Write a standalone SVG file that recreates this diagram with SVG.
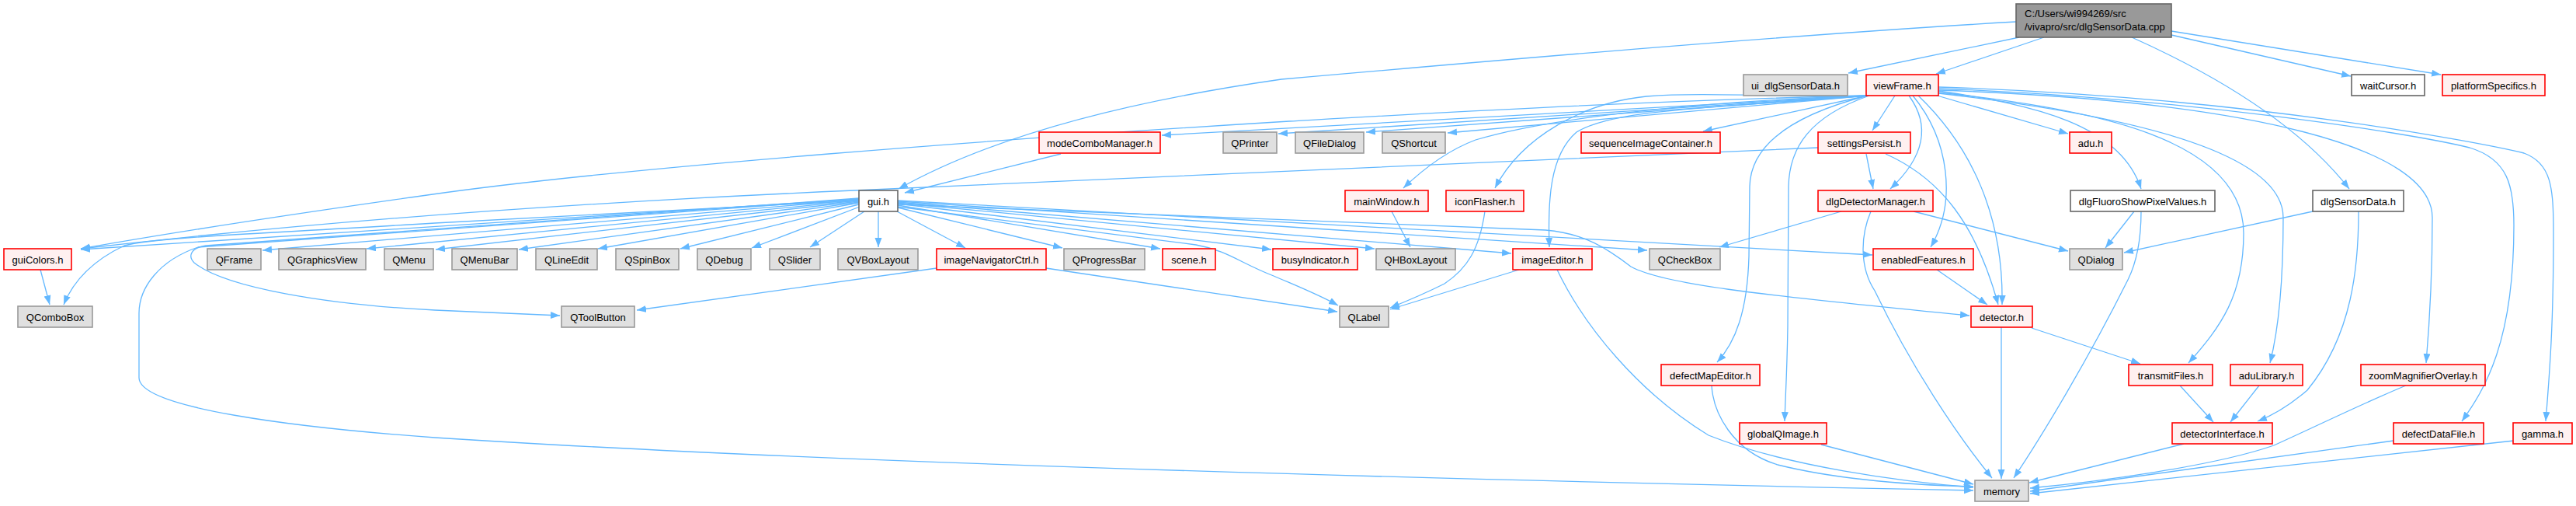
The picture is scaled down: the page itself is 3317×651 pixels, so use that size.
<svg xmlns="http://www.w3.org/2000/svg" width="3317" height="651" viewBox="0 0 3317 651">
<style>
.n text{font-family:"Liberation Sans",Arial,sans-serif;font-size:13px;fill:#000;text-anchor:middle}
.r rect{fill:#fff0f0;stroke:#ff0000;stroke-width:1.6}
.g rect{fill:#e0e0e0;stroke:#999999;stroke-width:1.6}
.w rect{fill:#ffffff;stroke:#666666;stroke-width:1.6}
.root rect{fill:#999999;stroke:#666666;stroke-width:1.6}
#edges path{fill:none;stroke:#63b8ff;stroke-width:1.3;marker-end:url(#ah)}
</style>
<defs>
<marker id="ah" markerUnits="userSpaceOnUse" markerWidth="14" markerHeight="10" refX="12" refY="4.5" orient="auto">
<path d="M0,0 L12,4.5 L0,9 z" fill="#63b8ff"/>
</marker>
</defs>
<rect width="3317" height="651" fill="#ffffff"/>
<g id="edges">
<path d="M2596,28 C2300,45 1900,80 1650,102 C1420,135 1260,185 1157,243"/>
<path d="M2600,48 L2380,94"/>
<path d="M2632,48 L2493,95"/>
<path d="M2796,45 L3027,98"/>
<path d="M2796,40 L3143,96"/>
<path d="M2745,48 C2850,95 2960,160 3025,243"/>
<path d="M2440,123 L2411,168"/>
<path d="M2458,123 C2485,160 2480,200 2434,243"/>
<path d="M2463,123 C2510,180 2520,260 2486,318"/>
<path d="M2470,123 C2540,190 2580,280 2578,392"/>
<path d="M2491,122 L2663,172"/>
<path d="M2496,117 C2620,135 2730,160 2757,243"/>
<path d="M2496,119 C2700,140 2889,180 2889,300 C2889,380 2860,420 2818,467"/>
<path d="M2496,120 C2760,150 2940,200 2940,280 C2940,360 2935,420 2923,467"/>
<path d="M2496,116 C2900,130 3132,190 3132,280 C3132,360 3128,420 3124,467"/>
<path d="M2496,114 C2800,125 3100,170 3180,190 C3230,205 3237,240 3237,290 C3237,440 3200,500 3170,542"/>
<path d="M2496,112 C2900,125 3200,185 3250,197 C3285,210 3288,240 3288,300 C3288,420 3283,480 3278,542"/>
<path d="M2405,123 L2193,169"/>
<path d="M2405,123 C2200,140 2080,140 2030,170 C1995,200 1993,260 1995,318"/>
<path d="M2405,123 C2300,126 2200,118 2120,124 C2040,132 1960,175 1925,242"/>
<path d="M2405,123 C2200,130 2000,150 1900,180 C1860,195 1830,220 1807,242"/>
<path d="M2405,123 L1864,171"/>
<path d="M2405,123 L1759,170"/>
<path d="M2405,123 L1646,172"/>
<path d="M2405,123 L1496,174"/>
<path d="M2405,123 C2100,130 1800,148 1660,156 C1300,178 800,215 550,251 C380,275 200,303 104,320"/>
<path d="M2405,123 C2300,150 2254,190 2253,240 L2252,330 C2250,400 2235,440 2211,466"/>
<path d="M2407,123 C2330,150 2304,190 2303,240 L2302,420 C2301,480 2299,510 2298,542"/>
<path d="M2403,198 L2412,243"/>
<path d="M2428,198 C2500,230 2545,290 2573,392"/>
<path d="M2341,190 L1100,245 C800,258 450,280 104,320"/>
<path d="M1106,256 L104,321"/>
<path d="M1106,257 L338,322"/>
<path d="M1106,258 L472,320"/>
<path d="M1106,259 L561,321"/>
<path d="M1106,260 L668,321"/>
<path d="M1106,261 L770,320"/>
<path d="M1106,263 L876,320"/>
<path d="M1107,266 L968,319"/>
<path d="M1113,272 L1043,318"/>
<path d="M1131,272 L1131,318"/>
<path d="M1155,272 L1243,319"/>
<path d="M1156,267 L1368,319"/>
<path d="M1156,264 L1494,320"/>
<path d="M1156,262 L1637,321"/>
<path d="M1156,261 L1770,320"/>
<path d="M1156,260 L1946,326"/>
<path d="M1156,259 L2121,322"/>
<path d="M1156,258 L2411,328"/>
<path d="M1156,263 L1990,296 C2040,300 2070,320 2100,343 C2140,365 2250,378 2536,406"/>
<path d="M1156,266 L1540,315 C1580,322 1600,340 1640,355 C1670,368 1700,380 1723,393"/>
<path d="M1106,258 L560,287 C350,300 200,305 160,316 C120,335 95,360 82,392"/>
<path d="M1106,255 L265,316 C245,319 242,330 250,338 C290,370 420,392 560,399 L721,406"/>
<path d="M1106,256 L255,318 C205,335 179,370 179,403 L179,486 C179,525 380,550 560,563 C900,585 1500,610 2541,631"/>
<path d="M52,347 L64,392"/>
<path d="M1206,345 L820,399"/>
<path d="M1347,345 L1722,401"/>
<path d="M1912,272 C1905,320 1890,345 1860,365 C1830,380 1810,388 1790,396"/>
<path d="M1956,347 L1790,398"/>
<path d="M2005,347 C2040,420 2110,505 2200,560 C2300,600 2450,620 2541,627"/>
<path d="M1792,272 L1816,318"/>
<path d="M1366,198 L1165,248"/>
<path d="M2371,272 L2214,318"/>
<path d="M2464,272 L2663,323"/>
<path d="M2409,272 C2395,305 2395,345 2414,374 C2460,470 2520,560 2565,615"/>
<path d="M2748,272 L2711,319"/>
<path d="M2757,272 C2757,310 2750,340 2740,360 C2690,460 2630,560 2593,615"/>
<path d="M2978,272 L2735,325"/>
<path d="M3037,272 C3037,340 3030,430 2971,502 C2950,520 2930,533 2907,542"/>
<path d="M2494,347 L2559,392"/>
<path d="M2577,421 L2577,616"/>
<path d="M2616,422 L2756,468"/>
<path d="M2807,496 L2850,543"/>
<path d="M2909,496 L2872,543"/>
<path d="M2812,571 L2613,621"/>
<path d="M3098,496 C3040,520 2990,545 2928,573 C2850,600 2700,620 2614,628"/>
<path d="M3082,567 L2614,632"/>
<path d="M3237,567 L2614,635"/>
<path d="M2345,572 L2541,623"/>
<path d="M2204,496 C2206,530 2230,580 2289,598 C2370,618 2460,624 2541,626"/>
</g>
<g id="root" class="n root"><rect x="2596" y="5" width="200" height="43"/><text x="2607" y="22" style="text-anchor:start">C:/Users/wi994269/src</text><text x="2607" y="39" style="text-anchor:start">/vivapro/src/dlgSensorData.cpp</text></g>
<g id="ui_dlgSensorData" class="n g"><rect x="2245" y="96" width="134" height="27"/><text x="2312" y="114.5">ui_dlgSensorData.h</text></g>
<g id="viewFrame" class="n r"><rect x="2403" y="96" width="93" height="27"/><text x="2449.5" y="114.5">viewFrame.h</text></g>
<g id="waitCursor" class="n w"><rect x="3028" y="96" width="94" height="27"/><text x="3075" y="114.5">waitCursor.h</text></g>
<g id="platformSpecifics" class="n r"><rect x="3145" y="96" width="132" height="27"/><text x="3211" y="114.5">platformSpecifics.h</text></g>
<g id="modeComboManager" class="n r"><rect x="1338" y="170" width="156" height="27"/><text x="1416" y="188.5">modeComboManager.h</text></g>
<g id="QPrinter" class="n g"><rect x="1575" y="170" width="69" height="27"/><text x="1609.5" y="188.5">QPrinter</text></g>
<g id="QFileDialog" class="n g"><rect x="1668" y="170" width="88" height="27"/><text x="1712" y="188.5">QFileDialog</text></g>
<g id="QShortcut" class="n g"><rect x="1780" y="170" width="81" height="27"/><text x="1820.5" y="188.5">QShortcut</text></g>
<g id="sequenceImageContainer" class="n r"><rect x="2036" y="170" width="179" height="27"/><text x="2125.5" y="188.5">sequenceImageContainer.h</text></g>
<g id="settingsPersist" class="n r"><rect x="2341" y="170" width="119" height="27"/><text x="2400.5" y="188.5">settingsPersist.h</text></g>
<g id="adu" class="n r"><rect x="2665" y="170" width="54" height="27"/><text x="2692" y="188.5">adu.h</text></g>
<g id="gui" class="n w"><rect x="1106" y="245" width="50" height="27"/><text x="1131" y="263.5">gui.h</text></g>
<g id="mainWindow" class="n r"><rect x="1732" y="245" width="107" height="27"/><text x="1785.5" y="263.5">mainWindow.h</text></g>
<g id="iconFlasher" class="n r"><rect x="1862" y="245" width="100" height="27"/><text x="1912" y="263.5">iconFlasher.h</text></g>
<g id="dlgDetectorManager" class="n r"><rect x="2341" y="245" width="148" height="27"/><text x="2415" y="263.5">dlgDetectorManager.h</text></g>
<g id="dlgFluoroShowPixelValues" class="n w"><rect x="2666" y="245" width="186" height="27"/><text x="2759" y="263.5">dlgFluoroShowPixelValues.h</text></g>
<g id="dlgSensorData" class="n w"><rect x="2978" y="245" width="117" height="27"/><text x="3036.5" y="263.5">dlgSensorData.h</text></g>
<g id="guiColors" class="n r"><rect x="5" y="320" width="87" height="27"/><text x="48.5" y="338.5">guiColors.h</text></g>
<g id="QFrame" class="n g"><rect x="267" y="320" width="69" height="27"/><text x="301.5" y="338.5">QFrame</text></g>
<g id="QGraphicsView" class="n g"><rect x="359" y="320" width="112" height="27"/><text x="415" y="338.5">QGraphicsView</text></g>
<g id="QMenu" class="n g"><rect x="495" y="320" width="63" height="27"/><text x="526.5" y="338.5">QMenu</text></g>
<g id="QMenuBar" class="n g"><rect x="582" y="320" width="84" height="27"/><text x="624" y="338.5">QMenuBar</text></g>
<g id="QLineEdit" class="n g"><rect x="690" y="320" width="79" height="27"/><text x="729.5" y="338.5">QLineEdit</text></g>
<g id="QSpinBox" class="n g"><rect x="793" y="320" width="81" height="27"/><text x="833.5" y="338.5">QSpinBox</text></g>
<g id="QDebug" class="n g"><rect x="898" y="320" width="69" height="27"/><text x="932.5" y="338.5">QDebug</text></g>
<g id="QSlider" class="n g"><rect x="991" y="320" width="65" height="27"/><text x="1023.5" y="338.5">QSlider</text></g>
<g id="QVBoxLayout" class="n g"><rect x="1079" y="320" width="103" height="27"/><text x="1130.5" y="338.5">QVBoxLayout</text></g>
<g id="imageNavigatorCtrl" class="n r"><rect x="1206" y="320" width="141" height="27"/><text x="1276.5" y="338.5">imageNavigatorCtrl.h</text></g>
<g id="QProgressBar" class="n g"><rect x="1370" y="320" width="104" height="27"/><text x="1422" y="338.5">QProgressBar</text></g>
<g id="scene" class="n r"><rect x="1497" y="320" width="68" height="27"/><text x="1531" y="338.5">scene.h</text></g>
<g id="busyIndicator" class="n r"><rect x="1639" y="320" width="109" height="27"/><text x="1693.5" y="338.5">busyIndicator.h</text></g>
<g id="QHBoxLayout" class="n g"><rect x="1772" y="320" width="102" height="27"/><text x="1823" y="338.5">QHBoxLayout</text></g>
<g id="imageEditor" class="n r"><rect x="1948" y="320" width="102" height="27"/><text x="1999" y="338.5">imageEditor.h</text></g>
<g id="QCheckBox" class="n g"><rect x="2124" y="320" width="91" height="27"/><text x="2169.5" y="338.5">QCheckBox</text></g>
<g id="enabledFeatures" class="n r"><rect x="2412" y="320" width="129" height="27"/><text x="2476.5" y="338.5">enabledFeatures.h</text></g>
<g id="QDialog" class="n g"><rect x="2665" y="320" width="68" height="27"/><text x="2699" y="338.5">QDialog</text></g>
<g id="QComboBox" class="n g"><rect x="23" y="394" width="96" height="27"/><text x="71" y="412.5">QComboBox</text></g>
<g id="QToolButton" class="n g"><rect x="723" y="394" width="94" height="27"/><text x="770" y="412.5">QToolButton</text></g>
<g id="QLabel" class="n g"><rect x="1725" y="394" width="63" height="27"/><text x="1756.5" y="412.5">QLabel</text></g>
<g id="detector" class="n r"><rect x="2538" y="394" width="79" height="27"/><text x="2577.5" y="412.5">detector.h</text></g>
<g id="defectMapEditor" class="n r"><rect x="2139" y="469" width="127" height="27"/><text x="2202.5" y="487.5">defectMapEditor.h</text></g>
<g id="transmitFiles" class="n r"><rect x="2741" y="469" width="108" height="27"/><text x="2795" y="487.5">transmitFiles.h</text></g>
<g id="aduLibrary" class="n r"><rect x="2872" y="469" width="93" height="27"/><text x="2918.5" y="487.5">aduLibrary.h</text></g>
<g id="zoomMagnifierOverlay" class="n r"><rect x="3040" y="469" width="160" height="27"/><text x="3120" y="487.5">zoomMagnifierOverlay.h</text></g>
<g id="globalQImage" class="n r"><rect x="2240" y="544" width="112" height="27"/><text x="2296" y="562.5">globalQImage.h</text></g>
<g id="detectorInterface" class="n r"><rect x="2797" y="544" width="129" height="27"/><text x="2861.5" y="562.5">detectorInterface.h</text></g>
<g id="defectDataFile" class="n r"><rect x="3082" y="544" width="116" height="27"/><text x="3140" y="562.5">defectDataFile.h</text></g>
<g id="gamma" class="n r"><rect x="3236" y="544" width="76" height="27"/><text x="3274" y="562.5">gamma.h</text></g>
<g id="memory" class="n g"><rect x="2543" y="618" width="69" height="27"/><text x="2577.5" y="636.5">memory</text></g>
</svg>
